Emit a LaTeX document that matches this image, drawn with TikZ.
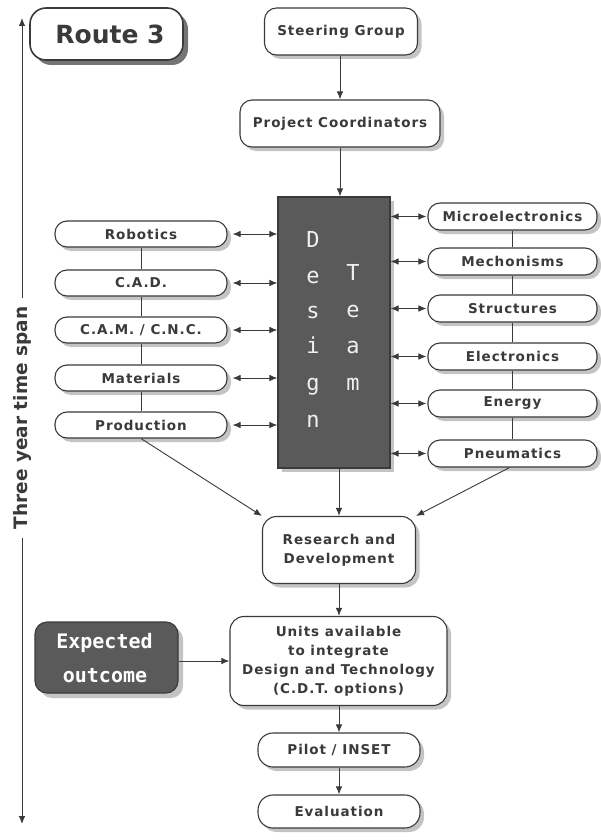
\documentclass[tikz,border=0pt]{standalone}
\usepackage{fontspec}
\setmainfont{DejaVu Sans}
\newfontfamily\boxfont[LetterSpace=7]{DejaVu Sans}
\newfontfamily\monofont{DejaVu Sans Mono}
\usetikzlibrary{arrows.meta,shadows}
\definecolor{ink}{HTML}{3A3A3A}
\definecolor{darkfill}{HTML}{5A5A5A}
\definecolor{shade}{HTML}{C4C4C4}
\definecolor{lite}{HTML}{F0F0F0}
\tikzset{
  base/.style={draw=ink, line width=1.1pt, fill=white, text=ink, inner sep=0pt, align=center,
    font=\boxfont\bfseries\fontsize{13.5}{19}\selectfont,
    drop shadow={shadow xshift=4pt, shadow yshift=-4pt, fill=shade, opacity=1}},
  pill/.style={base, rounded corners=12pt},
  leftpill/.style={pill, minimum width=172pt, minimum height=26pt},
  rightpill/.style={pill, minimum width=169pt, minimum height=27pt},
  conn/.style={draw=ink, line width=0.9pt},
  arr/.style={conn, -{Latex[length=8pt,width=6.5pt]}},
  darr/.style={conn, {Latex[length=8pt,width=6.5pt]}-{Latex[length=8pt,width=6.5pt]}},
  dtletter/.style={text=lite, anchor=base, inner sep=0pt, font=\monofont\fontsize{22}{22}\selectfont},
  eotext/.style={text=white, anchor=base, inner sep=0pt, font=\monofont\bfseries\fontsize{20}{20}\selectfont},
  rtext/.style={inner sep=0pt, text=ink, font=\bfseries\fontsize{25}{25}\selectfont},
  ttext/.style={inner sep=0pt, text=ink, rotate=90, font=\bfseries\fontsize{18.5}{18.5}\selectfont}
}
\begin{document}
\begin{tikzpicture}[x=1pt,y=-1pt]
\useasboundingbox (0,0) rectangle (600,840);

% Route 3 title
\node[base, rounded corners=16pt, line width=1.6pt, minimum width=153pt, minimum height=52pt,
  drop shadow={shadow xshift=5pt, shadow yshift=-5pt, fill=ink!70, opacity=1}] (r3) at (106.5,34) {};
\node[rtext] (r3t) at (110,34) {Route 3};

% time span arrow
\coordinate (ttop) at (22,18);
\coordinate (tbot) at (22,824);
\coordinate (tgapA) at (22,298);
\coordinate (tgapB) at (22,538);
\node[ttext] (tspan) at (22,418) {Three year time span};
\draw[arr] (tgapA) -- (ttop);
\draw[arr] (tgapB) -- (tbot);

% main column
\node[base, rounded corners=12pt, minimum width=153pt, minimum height=47pt] (sg) at (341,31.5) {Steering Group};
\node[base, rounded corners=12pt, minimum width=200pt, minimum height=47pt] (pc) at (340,123.5) {Project Coordinators};

% design team
\node[draw=ink, line width=1.1pt, fill=darkfill, minimum width=112pt, minimum height=271pt, inner sep=0pt,
  drop shadow={shadow xshift=4pt, shadow yshift=-4pt, fill=shade, opacity=1}] (dt) at (334,332.5) {};
\node[dtletter] (d1) at (313,247) {D};
\node[dtletter] (d2) at (313,283) {e};
\node[dtletter] (d3) at (313,318) {s};
\node[dtletter] (d4) at (313,353) {i};
\node[dtletter] (d5) at (313,390) {g};
\node[dtletter] (d6) at (313,427) {n};
\node[dtletter] (t1) at (353,280) {T};
\node[dtletter] (t2) at (353,317) {e};
\node[dtletter] (t3) at (353,353) {a};
\node[dtletter] (t4) at (353,390) {m};

% left boxes
\node[leftpill] (rob) at (141,234) {Robotics};
\node[leftpill] (cad) at (141,283) {C.A.D.};
\node[leftpill] (cam) at (141,330) {C.A.M. / C.N.C.};
\node[leftpill] (mat) at (141,378) {Materials};
\node[leftpill] (prod) at (141,425) {Production};

% right boxes
\node[rightpill] (mic) at (512.5,216.5) {Microelectronics};
\node[rightpill] (mec) at (512.5,261.5) {Mechonisms};
\node[rightpill] (str) at (512.5,308.5) {Structures};
\node[rightpill] (ele) at (512.5,356.5) {Electronics};
\node[rightpill] (ene) at (512.5,403.5) {Energy};
\node[rightpill] (pne) at (512.5,453.5) {Pneumatics};

% lower column
\node[base, rounded corners=14pt, minimum width=153pt, minimum height=67pt] (rd) at (339,550) {Research and\\Development};
\node[base, rounded corners=14pt, minimum width=217pt, minimum height=89pt] (un) at (338.5,661)
  {Units available\\to integrate\\Design and Technology\\(C.D.T. options)};
\node[pill, rounded corners=15pt, minimum width=162pt, minimum height=34pt] (pi) at (339,750) {Pilot / INSET};
\node[pill, rounded corners=15pt, minimum width=162pt, minimum height=33pt] (ev) at (339,811.5) {Evaluation};

% expected outcome
\node[draw=ink, line width=1.1pt, fill=darkfill, rounded corners=12pt, minimum width=143pt, minimum height=71pt, inner sep=0pt,
  drop shadow={shadow xshift=5pt, shadow yshift=-5pt, fill=shade, opacity=1}] (eo) at (106.5,657.5) {};
\node[eotext] (eo1) at (104.5,648) {Expected};
\node[eotext] (eo2) at (105,682) {outcome};

% connectors
\draw[arr] (sg.south -| pc.south) -- (pc.north);
\draw[arr] (pc.south) -- (pc.south |- dt.north);
\draw[conn] (rob) -- (cad);
\draw[conn] (cad) -- (cam);
\draw[conn] (cam) -- (mat);
\draw[conn] (mat) -- (prod);
\draw[conn] (mic) -- (mec);
\draw[conn] (mec) -- (str);
\draw[conn] (str) -- (ele);
\draw[conn] (ele) -- (ene);
\draw[conn] (ene) -- (pne);
\foreach \n in {rob,cad,cam,mat,prod}
  \draw[darr, shorten <=5pt] (\n.east) -- (\n.east -| dt.west);
\foreach \n in {mic,mec,str,ele,ene,pne}
  \draw[darr, shorten >=1pt] (\n.west -| dt.east) -- (\n.west);
\draw[arr] (rd.north |- dt.south) -- (rd.north);
\draw[arr] (prod.south) -- (rd.north west);
\draw[arr] (pne.south) ++(-3,0) coordinate (pneb) -- (rd.north east);
\draw[arr] (rd.south) -- (rd.south |- un.north);
\draw[arr] (pi.north |- un.south) -- (pi.north);
\draw[arr] (pi.south) -- (ev.north);
\draw[arr] (eo.east |- un.west) -- (un.west);
\end{tikzpicture}
\end{document}
